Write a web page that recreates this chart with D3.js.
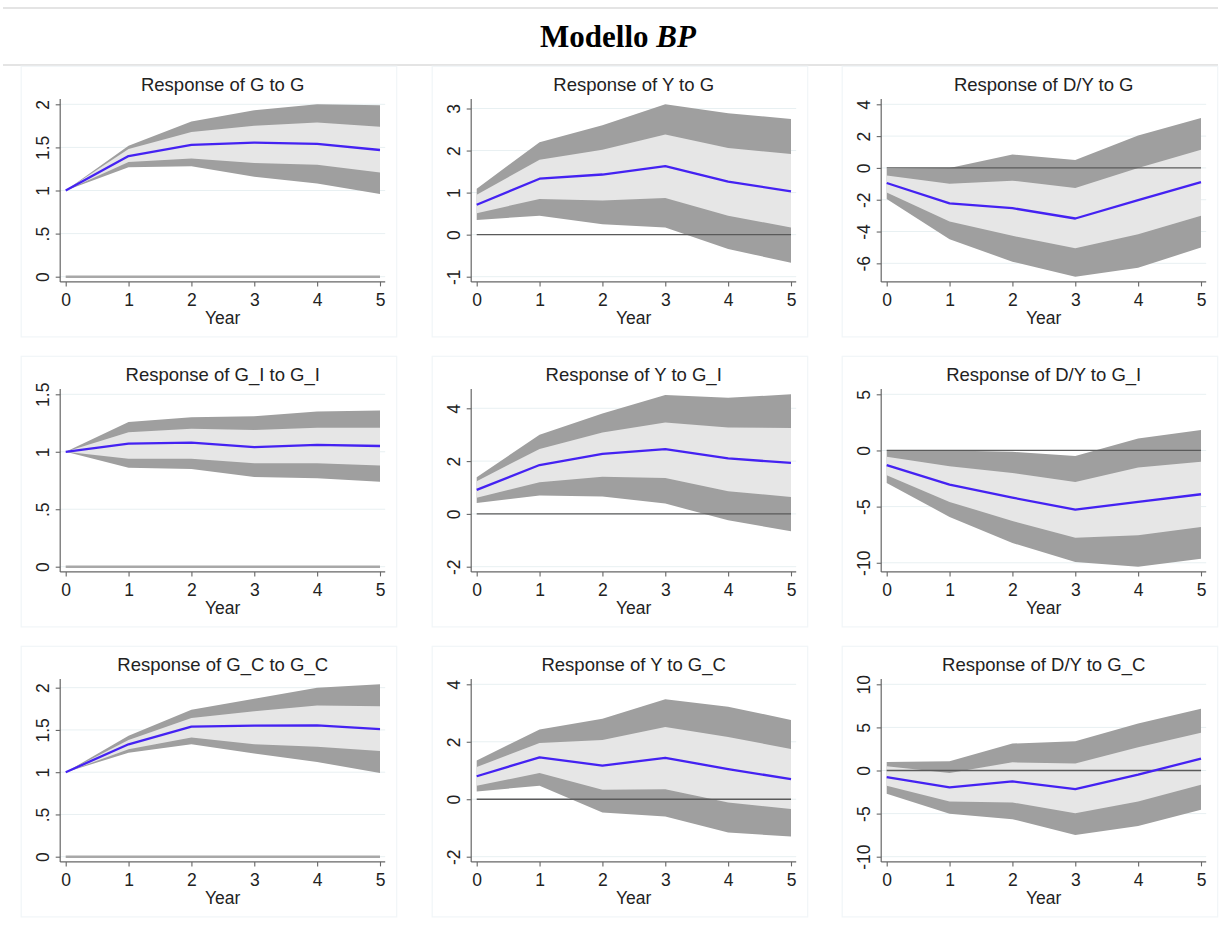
<!DOCTYPE html>
<html><head><meta charset="utf-8">
<script src="https://cdn.jsdelivr.net/npm/d3@7"></script>
<style>body{margin:0;background:#fff;} svg{display:block;}</style>
</head><body><svg id="c" width="1220" height="932"></svg>
<script>
// ---------- DATA ----------
const years = [0, 1, 2, 3, 4, 5];
const xTicks = [0, 1, 2, 3, 4, 5];
const xLabel = "Year";
const mainTitle = "Modello ";
const mainTitleItalic = "BP";
const titles = [
  "Response of G to G", "Response of Y to G", "Response of D/Y to G",
  "Response of G_I to G_I", "Response of Y to G_I", "Response of D/Y to G_I",
  "Response of G_C to G_C", "Response of Y to G_C", "Response of D/Y to G_C"
];

// Response of G to G
const gg_irf   = [1, 1.40, 1.53, 1.555, 1.54, 1.47];
const gg_outHi = [1, 1.52, 1.80, 1.93, 2.00, 1.99];
const gg_inHi  = [1, 1.48, 1.68, 1.75, 1.79, 1.74];
const gg_inLo  = [1, 1.33, 1.37, 1.32, 1.30, 1.21];
const gg_outLo = [1, 1.27, 1.28, 1.16, 1.08, 0.96];
const gg_ticks = [0, 0.5, 1, 1.5, 2];

// Response of Y to G
const yg_irf   = [0.71, 1.33, 1.43, 1.63, 1.26, 1.03];
const yg_outHi = [1.09, 2.20, 2.60, 3.10, 2.89, 2.75];
const yg_inHi  = [0.95, 1.78, 2.02, 2.38, 2.06, 1.92];
const yg_inLo  = [0.51, 0.85, 0.81, 0.87, 0.45, 0.17];
const yg_outLo = [0.35, 0.45, 0.25, 0.17, -0.34, -0.67];
const yg_ticks = [-1, 0, 1, 2, 3];

// Response of D/Y to G
const dg_irf   = [-0.95, -2.23, -2.53, -3.18, -2.02, -0.90];
const dg_outHi = [-0.05, 0.00, 0.84, 0.50, 2.04, 3.14];
const dg_inHi  = [-0.48, -1.00, -0.80, -1.26, 0.00, 1.14];
const dg_inLo  = [-1.54, -3.37, -4.27, -5.05, -4.17, -3.01];
const dg_outLo = [-1.96, -4.48, -5.90, -6.84, -6.27, -5.01];
const dg_ticks = [-6, -4, -2, 0, 2, 4];

// Response of G_I to G_I
const gigi_irf   = [1, 1.07, 1.08, 1.04, 1.06, 1.05];
const gigi_outHi = [1, 1.26, 1.30, 1.31, 1.35, 1.36];
const gigi_inHi  = [1, 1.17, 1.20, 1.19, 1.21, 1.21];
const gigi_inLo  = [1, 0.94, 0.94, 0.90, 0.90, 0.88];
const gigi_outLo = [1, 0.86, 0.85, 0.78, 0.77, 0.74];
const gigi_ticks = [0, 0.5, 1, 1.5];

// Response of Y to G_I
const ygi_irf   = [0.91, 1.85, 2.27, 2.45, 2.10, 1.93];
const ygi_outHi = [1.39, 3.00, 3.80, 4.50, 4.40, 4.53];
const ygi_inHi  = [1.24, 2.46, 3.08, 3.46, 3.27, 3.25];
const ygi_inLo  = [0.61, 1.20, 1.41, 1.36, 0.86, 0.64];
const ygi_outLo = [0.41, 0.70, 0.66, 0.39, -0.24, -0.66];
const ygi_ticks = [-2, 0, 2, 4];

// Response of D/Y to G_I
const dgi_irf   = [-1.31, -3.04, -4.20, -5.27, -4.58, -3.90];
const dgi_outHi = [0.00, 0.00, -0.12, -0.50, 1.07, 1.82];
const dgi_inHi  = [-0.57, -1.40, -2.00, -2.80, -1.52, -1.00];
const dgi_inLo  = [-2.20, -4.58, -6.28, -7.77, -7.56, -6.82];
const dgi_outLo = [-2.89, -5.92, -8.24, -9.94, -10.35, -9.64];
const dgi_ticks = [-10, -5, 0, 5];

// Response of G_C to G_C
const gcgc_irf   = [1, 1.33, 1.54, 1.55, 1.555, 1.51];
const gcgc_outHi = [1, 1.43, 1.74, 1.87, 2.00, 2.04];
const gcgc_inHi  = [1, 1.38, 1.64, 1.72, 1.79, 1.78];
const gcgc_inLo  = [1, 1.27, 1.41, 1.33, 1.30, 1.25];
const gcgc_outLo = [1, 1.23, 1.33, 1.22, 1.12, 0.99];
const gcgc_ticks = [0, 0.5, 1, 1.5, 2];

// Response of Y to G_C
const ygc_irf   = [0.80, 1.46, 1.17, 1.44, 1.05, 0.70];
const ygc_outHi = [1.35, 2.43, 2.80, 3.48, 3.22, 2.76];
const ygc_inHi  = [1.12, 1.96, 2.06, 2.51, 2.17, 1.75];
const ygc_inLo  = [0.47, 0.91, 0.33, 0.35, -0.11, -0.34];
const ygc_outLo = [0.27, 0.47, -0.46, -0.60, -1.16, -1.30];
const ygc_ticks = [-2, 0, 2, 4];

// Response of D/Y to G_C
const dgc_irf   = [-0.76, -1.96, -1.26, -2.16, -0.49, 1.38];
const dgc_outHi = [0.99, 1.07, 3.13, 3.40, 5.46, 7.17];
const dgc_inHi  = [0.49, -0.29, 0.95, 0.80, 2.70, 4.37];
const dgc_inLo  = [-1.77, -3.59, -3.71, -4.95, -3.59, -1.65];
const dgc_outLo = [-2.70, -5.03, -5.65, -7.48, -6.43, -4.56];
const dgc_ticks = [-10, -5, 0, 5, 10];

// ---------- LAYOUT ----------
const panels = [
  [gg_irf, gg_outHi, gg_inHi, gg_inLo, gg_outLo, gg_ticks],
  [yg_irf, yg_outHi, yg_inHi, yg_inLo, yg_outLo, yg_ticks],
  [dg_irf, dg_outHi, dg_inHi, dg_inLo, dg_outLo, dg_ticks],
  [gigi_irf, gigi_outHi, gigi_inHi, gigi_inLo, gigi_outLo, gigi_ticks],
  [ygi_irf, ygi_outHi, ygi_inHi, ygi_inLo, ygi_outLo, ygi_ticks],
  [dgi_irf, dgi_outHi, dgi_inHi, dgi_inLo, dgi_outLo, dgi_ticks],
  [gcgc_irf, gcgc_outHi, gcgc_inHi, gcgc_inLo, gcgc_outLo, gcgc_ticks],
  [ygc_irf, ygc_outHi, ygc_inHi, ygc_inLo, ygc_outLo, ygc_ticks],
  [dgc_irf, dgc_outHi, dgc_inHi, dgc_inLo, dgc_outLo, dgc_ticks]
];

const colX0 = [65.7, 476.7, 886.7];
const plotW = 314.3;
const rowTop = [104.3, 394.3, 684.3];
const plotH = 172.4;
const pad = 5.2;

const FONT = "'Liberation Sans', Arial, Helvetica, sans-serif";
const svg = d3.select("#c");
svg.append("rect").attr("width", 1220).attr("height", 932).attr("fill", "#fff");

// header lines + title
[8, 65].forEach(y => svg.append("line").attr("x1", 3).attr("x2", 1218)
  .attr("y1", y).attr("y2", y).attr("stroke", "#e4e4e4").attr("stroke-width", 2));
const tt = svg.append("text").attr("x", 618).attr("y", 47)
  .attr("text-anchor", "middle").attr("font-family", "'Liberation Serif', 'Times New Roman', serif")
  .attr("font-weight", "bold").attr("font-size", 31).attr("fill", "#000");
tt.append("tspan").text(mainTitle);
tt.append("tspan").attr("font-style", "italic").text(mainTitleItalic);

const fmt = v => {
  let s = String(v);
  return s.replace(/^0\./, ".").replace(/^-0\./, "-.");
};

panels.forEach((p, i) => {
  const [irf, outHi, inHi, inLo, outLo, ticks] = p;
  const col = i % 3, row = Math.floor(i / 3);
  const x0 = colX0[col], yTop = rowTop[row];
  const x = d3.scaleLinear().domain([0, 5]).range([x0, x0 + plotW]);
  const all = [].concat(irf, outHi, inHi, inLo, outLo, ticks);
  const y = d3.scaleLinear().domain(d3.extent(all)).range([yTop + plotH, yTop]);

  const axX = x0 - pad - 0.3, axY = yTop + plotH + pad;
  const right = x0 + plotW + pad;
  const g = svg.append("g");

  // panel frame
  g.append("rect").attr("x", axX - 39).attr("y", yTop - 38).attr("width", right - axX + 39 + 11.5)
    .attr("height", axY - yTop + 38 + 55).attr("fill", "none").attr("stroke", "#f1f6f8").attr("stroke-width", 1.2);

  // gridlines
  g.selectAll(".grid").data(ticks).enter().append("line")
    .attr("x1", axX).attr("x2", right).attr("y1", d => y(d)).attr("y2", d => y(d))
    .attr("stroke", "#e8f0f2").attr("stroke-width", 1);

  // bands
  const area = (lo, hi) => d3.area().x((d, k) => x(years[k])).y0((d, k) => y(lo[k])).y1((d, k) => y(hi[k]))(years);
  g.append("path").attr("d", area(outLo, outHi)).attr("fill", "#9f9f9f");
  g.append("path").attr("d", area(inLo, inHi)).attr("fill", "#e6e6e6");

  // zero line
  const zeroAtBottom = y.domain()[0] === 0;
  g.append("line").attr("x1", x(0)).attr("x2", x(5)).attr("y1", y(0)).attr("y2", y(0))
    .attr("stroke", zeroAtBottom ? "#a8a8a8" : "#5a5a5a")
    .attr("stroke-width", zeroAtBottom ? 2.6 : 1.3);

  // irf line
  const line = d3.line().x((d, k) => x(years[k])).y(d => y(d));
  g.append("path").attr("d", line(irf)).attr("fill", "none").attr("stroke", "#4422f2")
    .attr("stroke-width", 2.3).attr("stroke-linejoin", "round");

  // axes lines
  g.append("line").attr("x1", axX).attr("x2", axX).attr("y1", axY).attr("y2", yTop - pad)
    .attr("stroke", "#666").attr("stroke-width", 1.2);
  g.append("line").attr("x1", axX).attr("x2", right).attr("y1", axY).attr("y2", axY)
    .attr("stroke", "#666").attr("stroke-width", 1.2);

  // y axis ticks
  const ya = g.append("g").attr("transform", `translate(${axX},0)`)
    .call(d3.axisLeft(y).tickValues(ticks).tickFormat(fmt).tickSize(4.5).tickSizeOuter(0));
  ya.select(".domain").remove();
  ya.selectAll(".tick line").attr("stroke", "#666").attr("stroke-width", 1.1);
  ya.selectAll(".tick text").attr("transform", "rotate(-90)").attr("x", 0).attr("y", -11.5)
    .attr("dy", 0).attr("text-anchor", "middle").attr("font-family", FONT)
    .attr("font-size", 17.5).attr("fill", "#222");

  // x axis ticks
  const xa = g.append("g").attr("transform", `translate(0,${axY})`)
    .call(d3.axisBottom(x).tickValues(xTicks).tickFormat(d3.format("d")).tickSize(4.5).tickSizeOuter(0));
  xa.select(".domain").remove();
  xa.selectAll(".tick line").attr("stroke", "#666").attr("stroke-width", 1.1);
  xa.selectAll(".tick text").attr("y", 24).attr("dy", 0).attr("font-family", FONT)
    .attr("font-size", 17.5).attr("fill", "#222");

  const cx = (axX + right) / 2;
  g.append("text").attr("x", cx).attr("y", axY + 42).attr("text-anchor", "middle")
    .attr("font-family", FONT).attr("font-size", 17.5).attr("fill", "#222").text(xLabel);
  g.append("text").attr("x", cx).attr("y", yTop - 13).attr("text-anchor", "middle")
    .attr("font-family", FONT).attr("font-size", 18.5).attr("fill", "#222").text(titles[i]);
});
</script>
</body></html>
